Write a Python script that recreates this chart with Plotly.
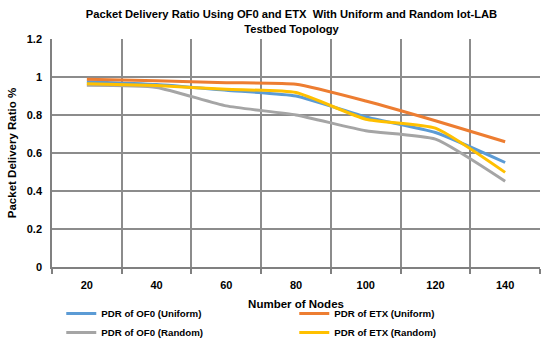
import plotly.graph_objects as go

nodes = [20, 40, 60, 80, 100, 120, 140]
pdr_of0_uniform = [0.975, 0.96, 0.93, 0.90, 0.79, 0.708, 0.55]
pdr_etx_uniform = [0.988, 0.98, 0.97, 0.962, 0.874, 0.77, 0.659]
pdr_of0_random = [0.956, 0.945, 0.848, 0.80, 0.717, 0.673, 0.451]
pdr_etx_random = [0.965, 0.955, 0.935, 0.918, 0.778, 0.731, 0.498]

series = [
    ("PDR of OF0 (Uniform)", pdr_of0_uniform, "#5B9BD5"),
    ("PDR of ETX (Uniform)", pdr_etx_uniform, "#ED7D31"),
    ("PDR of OF0 (Random)", pdr_of0_random, "#A5A5A5"),
    ("PDR of ETX (Random)", pdr_etx_random, "#FFC000"),
]

FONT = "Liberation Sans"
fig = go.Figure()
for name, vals, color in series:
    fig.add_trace(go.Scatter(
        x=nodes, y=vals, name=name, mode="lines",
        line=dict(color=color, width=3, shape="spline", smoothing=0.5),
    ))

boundaries = [n - 10 for n in nodes] + [nodes[-1] + 10]

fig.update_layout(
    width=550, height=347,
    margin=dict(l=52, r=10, t=39, b=80, autoexpand=False),
    paper_bgcolor="white", plot_bgcolor="white",
    font=dict(family=FONT, color="black", size=11, weight="bold"),
    title=dict(
        text="Packet Delivery Ratio Using OF0 and ETX  With Uniform and Random Iot-LAB<br>Testbed Topology",
        x=0.53, xanchor="center", yref="container", y=1 - 18 / 347, yanchor="middle",
        font=dict(size=11.2, family=FONT, weight="bold"),
    ),
    xaxis=dict(
        range=[10, 150], tickvals=nodes, ticktext=[str(n) for n in nodes],
        showgrid=False, ticks="", showline=True, linecolor="#808080", linewidth=1.5,
        minor=dict(tickvals=boundaries, showgrid=True, gridcolor="#8c8c8c", gridwidth=1.5,
                   ticks="outside", ticklen=5, tickcolor="#808080", tickwidth=1.5),
        zeroline=False, ticklabelstandoff=7,
        title=dict(text="Number of Nodes", font=dict(size=11.5, weight="bold"), standoff=10),
        tickfont=dict(size=11, weight="bold"),
    ),
    yaxis=dict(
        range=[0, 1.2], tickvals=[0, 0.2, 0.4, 0.6, 0.8, 1, 1.2],
        ticktext=["0", "0.2", "0.4", "0.6", "0.8", "1", "1.2"],
        showgrid=True, gridcolor="#8c8c8c", gridwidth=1.5,
        showline=True, linecolor="#808080", linewidth=1.5, zeroline=False,
        ticks="", ticklabelstandoff=6,
        title=dict(text="Packet Delivery Ratio %", font=dict(size=11.5, weight="bold"), standoff=8),
        tickfont=dict(size=11, weight="bold"),
    ),
    legend=dict(
        orientation="h", x=0.019, xanchor="left", y=-0.14, yanchor="top",
        entrywidth=188, entrywidthmode="pixels", tracegroupgap=0,
        font=dict(size=9.7, weight="bold"), itemwidth=30,
        bgcolor="rgba(0,0,0,0)",
    ),
    showlegend=True,
)

fig.write_html("out.html", config={"displayModeBar": False},
               post_script="document.body.style.margin='0px';")
